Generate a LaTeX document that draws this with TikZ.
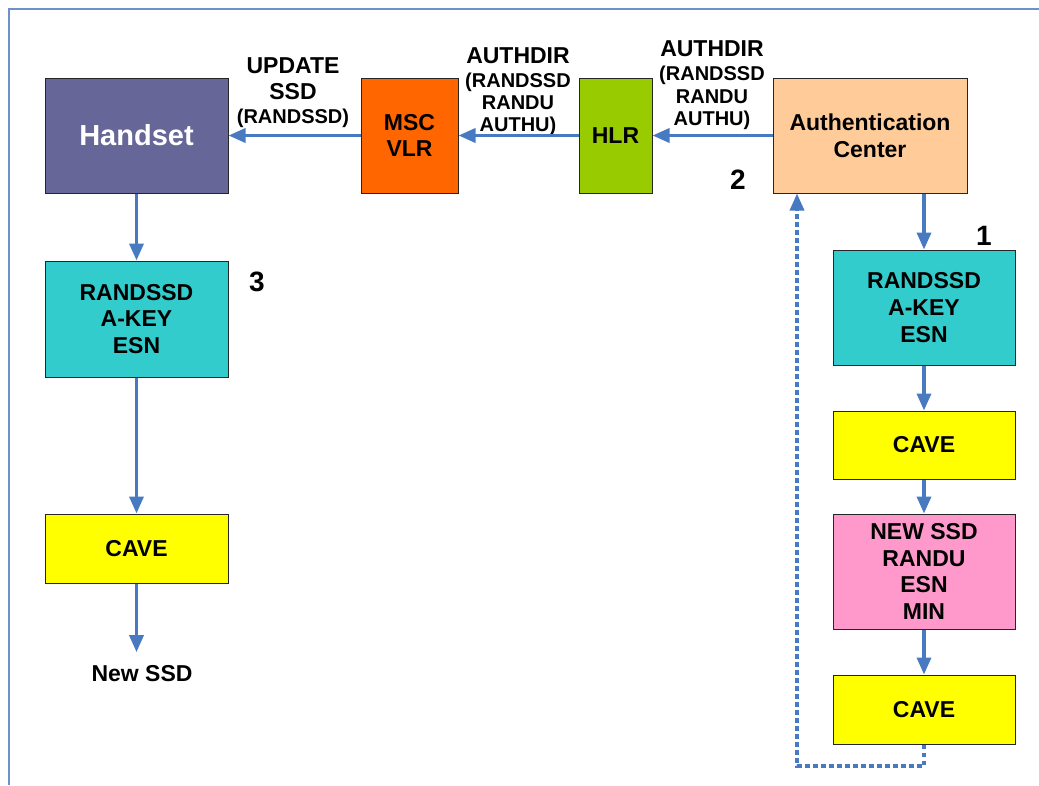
\documentclass[tikz,border=0pt]{standalone}
\usepackage{fontspec}
\setmainfont{Liberation Sans}
\usetikzlibrary{arrows.meta}
\definecolor{flow}{RGB}{72,122,194}
\definecolor{framec}{RGB}{110,145,205}
\definecolor{hand}{RGB}{102,102,153}
\definecolor{msc}{RGB}{255,102,0}
\definecolor{hlr}{RGB}{153,204,0}
\definecolor{auc}{RGB}{255,204,153}
\definecolor{teal}{RGB}{51,204,204}
\definecolor{cave}{RGB}{255,255,0}
\definecolor{pinkbox}{RGB}{255,153,204}
\tikzset{
  blk/.style={draw=black!85, line width=1pt, inner sep=0pt, align=center,
    font=\bfseries\fontsize{23}{26.8}\selectfont},
  flowarrow/.style={draw=flow, line width=3.5pt,
    -{Triangle[length=17pt,width=14pt]}},
  returnarrow/.style={flowarrow, dash pattern=on 4.5pt off 3.5pt},
  lbig/.style={anchor=base, inner sep=0pt, font=\bfseries\fontsize{23}{26}\selectfont},
  lsmall/.style={anchor=base, inner sep=0pt, font=\bfseries\fontsize{20}{22}\selectfont},
  stepnum/.style={inner sep=0pt, font=\bfseries\fontsize{28}{30}\selectfont}
}
\begin{document}
\begin{tikzpicture}[x=1pt,y=-1pt]
\useasboundingbox (0,0) rectangle (1039,785);
% outer frame
\draw[framec, line width=1.2pt] (9,785) -- (9,9) -- (1039,9);

% top row
\node[blk, fill=hand, text=white, minimum width=183, minimum height=115,
  font=\bfseries\fontsize{29}{32}\selectfont] (hs) at (136.5,135.5) {Handset};
\node[blk, fill=msc, minimum width=97, minimum height=115] (msc) at (409.5,135.5) {MSC\\VLR};
\node[blk, fill=hlr, minimum width=73, minimum height=115] (hlr) at (615.5,135.5) {HLR};
\node[blk, fill=auc, minimum width=194, minimum height=115] (ac) at (870,135.5) {Authentication\\Center};

% left column
\node[blk, fill=teal, minimum width=183, minimum height=116] (lk) at (136.5,319) {RANDSSD\\A-KEY\\ESN};
\node[blk, fill=cave, minimum width=183, minimum height=69] (lc) at (136.5,548.5) {CAVE};
\node[inner xsep=0pt, inner ysep=13.5pt, anchor=center,
  font=\bfseries\fontsize{23}{26}\selectfont] (ns) at (142,674) {New SSD};

% right column
\node[blk, fill=teal, minimum width=182, minimum height=115] (rk) at (924,307.5) {RANDSSD\\A-KEY\\ESN};
\node[blk, fill=cave, minimum width=182, minimum height=68] (rc1) at (924,445) {CAVE};
\node[blk, fill=pinkbox, minimum width=182, minimum height=115] (pk) at (924,571.5) {NEW SSD\\RANDU\\ESN\\MIN};
\node[blk, fill=cave, minimum width=182, minimum height=69] (rc2) at (924,709.5) {CAVE};

% message labels
\node[lbig] (u1) at (293,73) {UPDATE};
\node[lbig] (u2) at (293,99) {SSD};
\node[lsmall] (u3) at (293,123) {(RANDSSD)};
\node[lbig] (m1) at (518,63) {AUTHDIR};
\node[lsmall] (m2) at (518,87) {(RANDSSD};
\node[lsmall] (m3) at (518,109.5) {RANDU};
\node[lsmall] (m4) at (518,131) {AUTHU)};
\node[lbig] (r1) at (712,56) {AUTHDIR};
\node[lsmall] (r2) at (712,80) {(RANDSSD};
\node[lsmall] (r3) at (712,103) {RANDU};
\node[lsmall] (r4) at (712,125.5) {AUTHU)};

% step numbers
\node[stepnum] (n1) at (984,236) {1};
\node[stepnum] (n2) at (738,180) {2};
\node[stepnum] (n3) at (257,282) {3};

% flow
\draw[flowarrow] (ac.west) -- (hlr.east);
\draw[flowarrow] (hlr.west) -- (msc.east);
\draw[flowarrow] (msc.west) -- (hs.east);
\draw[flowarrow] (hs.south) -- (lk.north);
\draw[flowarrow] (lk.south) -- (lc.north);
\draw[flowarrow] (lc.south) -- (lc.south |- ns.north);
\draw[flowarrow] (ac.south -| rk.north) -- (rk.north);
\draw[flowarrow] (rk.south) -- (rc1.north);
\draw[flowarrow] (rc1.south) -- (pk.north);
\draw[flowarrow] (pk.south) -- (rc2.north);

% return path to the authentication center
\coordinate (loop) at (797,766);
\draw[returnarrow] (rc2.south) |- (loop) -- (loop |- ac.south);
\end{tikzpicture}
\end{document}
